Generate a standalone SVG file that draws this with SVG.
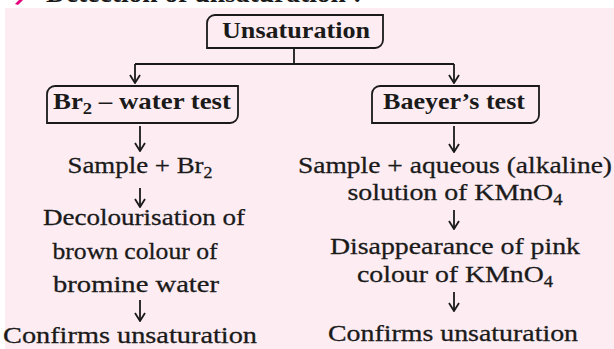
<svg xmlns="http://www.w3.org/2000/svg" width="614" height="349" viewBox="0 0 614 349">
  <style>
    .head { font-family: "Liberation Serif", "Times New Roman", serif; font-weight: bold; font-size: 27px; fill: #1a1a1a; }
    .box { fill: none; stroke: #1a1a1a; stroke-width: 1.8; }
    .txt { font-family: "Liberation Serif", "Times New Roman", serif; font-size: 24px; fill: #1a1a1a; stroke: #1a1a1a; stroke-width: 0.3; text-anchor: middle; }
    .title { font-family: "Liberation Serif", "Times New Roman", serif; font-size: 23px; font-weight: bold; fill: #1a1a1a; text-anchor: middle; }
    .link { fill: none; stroke: #1a1a1a; stroke-width: 1.8; }
    .sub { font-size: 16px; }
  </style>
  <defs>
    <!-- open V arrowhead, drawn along +x so orient="auto" turns it with the line -->
    <marker id="vhead" viewBox="0 0 10 12" refX="9" refY="6" markerWidth="10" markerHeight="12" markerUnits="userSpaceOnUse" orient="auto">
      <path d="M1,1 L9,6 L1,11" fill="none" stroke="#1a1a1a" stroke-width="1.8"/>
    </marker>
  </defs>

  <!-- page background -->
  <rect x="0" y="0" width="614" height="349" fill="#ffffff"/>
  <rect x="5" y="8" width="609" height="341" fill="#fdedf2"/>

  <!-- section heading, running off the top edge -->
  <path d="M15,4 L19,0 L23,0 L18,5 Z" fill="#e6007e"/>
  <text x="46" y="2" class="head" textLength="316" lengthAdjust="spacingAndGlyphs">Detection of unsaturation :</text>

  <!-- root node -->
  <g id="unsaturation">
    <path class="box" d="M215,15 H383 V40 A8,8 0 0 1 375,48 H207 V23 A8,8 0 0 1 215,15 Z"/>
    <text x="296" y="38" class="title" textLength="148" lengthAdjust="spacingAndGlyphs">Unsaturation</text>
  </g>

  <!-- bromine water branch -->
  <g id="br2-test">
    <path class="box" d="M55,86 H238 V115 A8,8 0 0 1 230,123 H47 V94 A8,8 0 0 1 55,86 Z"/>
    <text x="142" y="109" class="title" textLength="178" lengthAdjust="spacingAndGlyphs">Br<tspan class="sub" dy="5">2</tspan><tspan dy="-5"> – water test</tspan></text>
  </g>
  <g id="br2-sample">
    <text x="140" y="173" class="txt" textLength="145" lengthAdjust="spacingAndGlyphs">Sample + Br<tspan class="sub" dy="5">2</tspan></text>
  </g>
  <g id="br2-result">
    <text x="144" y="225" class="txt" textLength="202" lengthAdjust="spacingAndGlyphs">Decolourisation of</text>
    <text x="135" y="259" class="txt" textLength="165" lengthAdjust="spacingAndGlyphs">brown colour of</text>
    <text x="136" y="292" class="txt" textLength="166" lengthAdjust="spacingAndGlyphs">bromine water</text>
  </g>
  <g id="br2-confirm">
    <text x="130" y="343" class="txt" textLength="254" lengthAdjust="spacingAndGlyphs">Confirms unsaturation</text>
  </g>

  <!-- Baeyer branch -->
  <g id="baeyer-test">
    <path class="box" d="M380,86 H539 V115 A8,8 0 0 1 531,123 H372 V94 A8,8 0 0 1 380,86 Z"/>
    <text x="454" y="109" class="title" textLength="142" lengthAdjust="spacingAndGlyphs">Baeyer’s test</text>
  </g>
  <g id="baeyer-sample">
    <text x="455" y="173" class="txt" textLength="314" lengthAdjust="spacingAndGlyphs">Sample + aqueous (alkaline)</text>
    <text x="455" y="200" class="txt" textLength="215" lengthAdjust="spacingAndGlyphs">solution of KMnO<tspan class="sub" dy="5">4</tspan></text>
  </g>
  <g id="baeyer-result">
    <text x="455" y="254" class="txt" textLength="250" lengthAdjust="spacingAndGlyphs">Disappearance of pink</text>
    <text x="455" y="282" class="txt" textLength="196" lengthAdjust="spacingAndGlyphs">colour of KMnO<tspan class="sub" dy="5">4</tspan></text>
  </g>
  <g id="baeyer-confirm">
    <text x="453" y="341" class="txt" textLength="250" lengthAdjust="spacingAndGlyphs">Confirms unsaturation</text>
  </g>

  <!-- connectors -->
  <g id="connectors">
    <path class="link" d="M294,48 V64 M135,64 H454"/>
    <path class="link" d="M135,64 V83" marker-end="url(#vhead)"/>
    <path class="link" d="M454,64 V83" marker-end="url(#vhead)"/>
    <path class="link" d="M140,126 V151" marker-end="url(#vhead)"/>
    <path class="link" d="M140,188 V207" marker-end="url(#vhead)"/>
    <path class="link" d="M140,300 V321" marker-end="url(#vhead)"/>
    <path class="link" d="M454,126 V152" marker-end="url(#vhead)"/>
    <path class="link" d="M454,210 V229" marker-end="url(#vhead)"/>
    <path class="link" d="M454,292 V311" marker-end="url(#vhead)"/>
  </g>
</svg>
